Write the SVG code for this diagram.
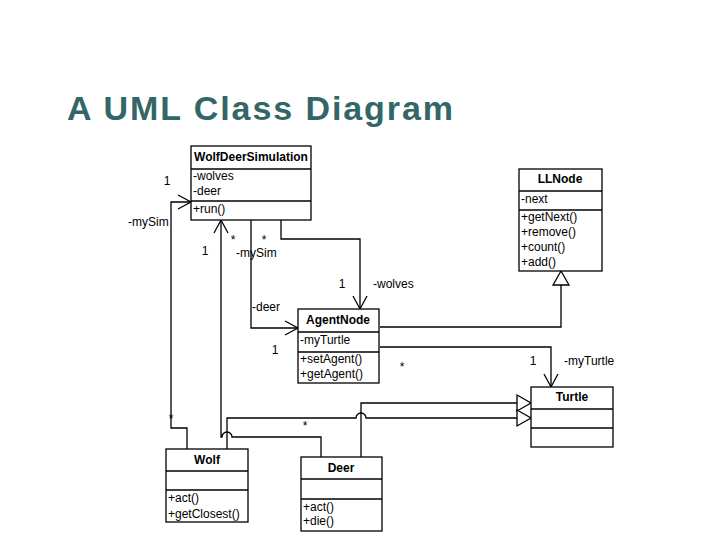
<svg xmlns="http://www.w3.org/2000/svg" width="720" height="540" viewBox="0 0 720 540">
<style>
text{font-family:"Liberation Sans",Arial,sans-serif;font-size:12px;fill:#000}
.t{font-weight:bold;text-anchor:middle}
.box{fill:#fff;stroke:#000;stroke-width:1.3}
.sep{stroke:#000;stroke-width:1.3}
.c{fill:none;stroke:#000;stroke-width:1.3}
.title{font-size:34px;font-weight:bold;fill:#336666}
</style>
<defs>
<marker id="open" markerUnits="userSpaceOnUse" markerWidth="16" markerHeight="16" refX="13" refY="7" orient="auto" overflow="visible">
<path d="M0,0 L13,7 L0,14" fill="none" stroke="#000" stroke-width="1.3"/>
</marker>
<marker id="tri" markerUnits="userSpaceOnUse" markerWidth="18" markerHeight="18" refX="14" refY="8" orient="auto" overflow="visible">
<path d="M0,0 L14,8 L0,16 Z" fill="#fff" stroke="#000" stroke-width="1.3"/>
</marker>
</defs>
<rect width="720" height="540" fill="#fff"/>
<text class="title" x="67" y="120" textLength="386" lengthAdjust="spacing">A UML Class Diagram</text>

<g id="connectors">
<path class="c" d="M187,449 L187,428 L171,428 L171,202 L191,202" marker-end="url(#open)"/>
<path class="c" d="M321,457 L321,437 L232,437 A5,5 0 0 0 222,437 L221,437 L221,220" marker-end="url(#open)"/>
<path class="c" d="M251,220 L251,328 L298,328" marker-end="url(#open)"/>
<path class="c" d="M281,220 L281,239 L360,239 L360,309" marker-end="url(#open)"/>
<path class="c" d="M380,327 L561,327 L561,271" marker-end="url(#tri)"/>
<path class="c" d="M380,347 L551,347 L551,387" marker-end="url(#open)"/>
<path class="c" d="M361,457 L361,403 L531,403" marker-end="url(#tri)"/>
<path class="c" d="M227,449 L227,418 L356,418 A5,5 0 0 1 366,418 L531,418" marker-end="url(#tri)"/>
<text x="167" y="185" text-anchor="middle">1</text>
<text x="128" y="226">-mySim</text>
<text x="205" y="255" text-anchor="middle">1</text>
<text x="233" y="243.5" text-anchor="middle">*</text>
<text x="264" y="243.5" text-anchor="middle">*</text>
<text x="236" y="257">-mySim</text>
<text x="342" y="288" text-anchor="middle">1</text>
<text x="373" y="288">-wolves</text>
<text x="252" y="311">-deer</text>
<text x="275" y="354" text-anchor="middle">1</text>
<text x="402" y="371" text-anchor="middle">*</text>
<text x="533" y="365" text-anchor="middle">1</text>
<text x="564" y="365">-myTurtle</text>
<text x="305" y="430" text-anchor="middle">*</text>
<text x="171" y="423" text-anchor="middle">*</text>
</g>

<g id="WolfDeerSimulation">
<rect class="box" x="191" y="146" width="120" height="74"/>
<line class="sep" x1="191" y1="169" x2="311" y2="169"/>
<line class="sep" x1="191" y1="201" x2="311" y2="201"/>
<text class="t" x="251" y="161">WolfDeerSimulation</text>
<text x="193" y="180">-wolves</text>
<text x="193" y="195">-deer</text>
<text x="193" y="213">+run()</text>
</g>

<g id="LLNode">
<rect class="box" x="519" y="169" width="83" height="102"/>
<line class="sep" x1="519" y1="191" x2="602" y2="191"/>
<line class="sep" x1="519" y1="210" x2="602" y2="210"/>
<text class="t" x="560" y="183">LLNode</text>
<text x="521" y="203">-next</text>
<text x="521" y="221">+getNext()</text>
<text x="521" y="236">+remove()</text>
<text x="521" y="251">+count()</text>
<text x="521" y="266">+add()</text>
</g>

<g id="AgentNode">
<rect class="box" x="298" y="309" width="81" height="74"/>
<line class="sep" x1="298" y1="332" x2="379" y2="332"/>
<line class="sep" x1="298" y1="352" x2="379" y2="352"/>
<text class="t" x="338" y="324">AgentNode</text>
<text x="300" y="344">-myTurtle</text>
<text x="300" y="363">+setAgent()</text>
<text x="300" y="378">+getAgent()</text>
</g>

<g id="Turtle">
<rect class="box" x="531" y="387" width="82" height="60"/>
<line class="sep" x1="531" y1="409" x2="613" y2="409"/>
<line class="sep" x1="531" y1="428" x2="613" y2="428"/>
<text class="t" x="572" y="401">Turtle</text>
</g>

<g id="Wolf">
<rect class="box" x="166" y="449" width="82" height="73"/>
<line class="sep" x1="166" y1="471" x2="248" y2="471"/>
<line class="sep" x1="166" y1="490" x2="248" y2="490"/>
<text class="t" x="207" y="464">Wolf</text>
<text x="168" y="502">+act()</text>
<text x="168" y="518">+getClosest()</text>
</g>

<g id="Deer">
<rect class="box" x="301" y="457" width="81" height="74"/>
<line class="sep" x1="301" y1="479" x2="382" y2="479"/>
<line class="sep" x1="301" y1="499" x2="382" y2="499"/>
<text class="t" x="341" y="472">Deer</text>
<text x="303" y="511">+act()</text>
<text x="303" y="525">+die()</text>
</g>
</svg>
